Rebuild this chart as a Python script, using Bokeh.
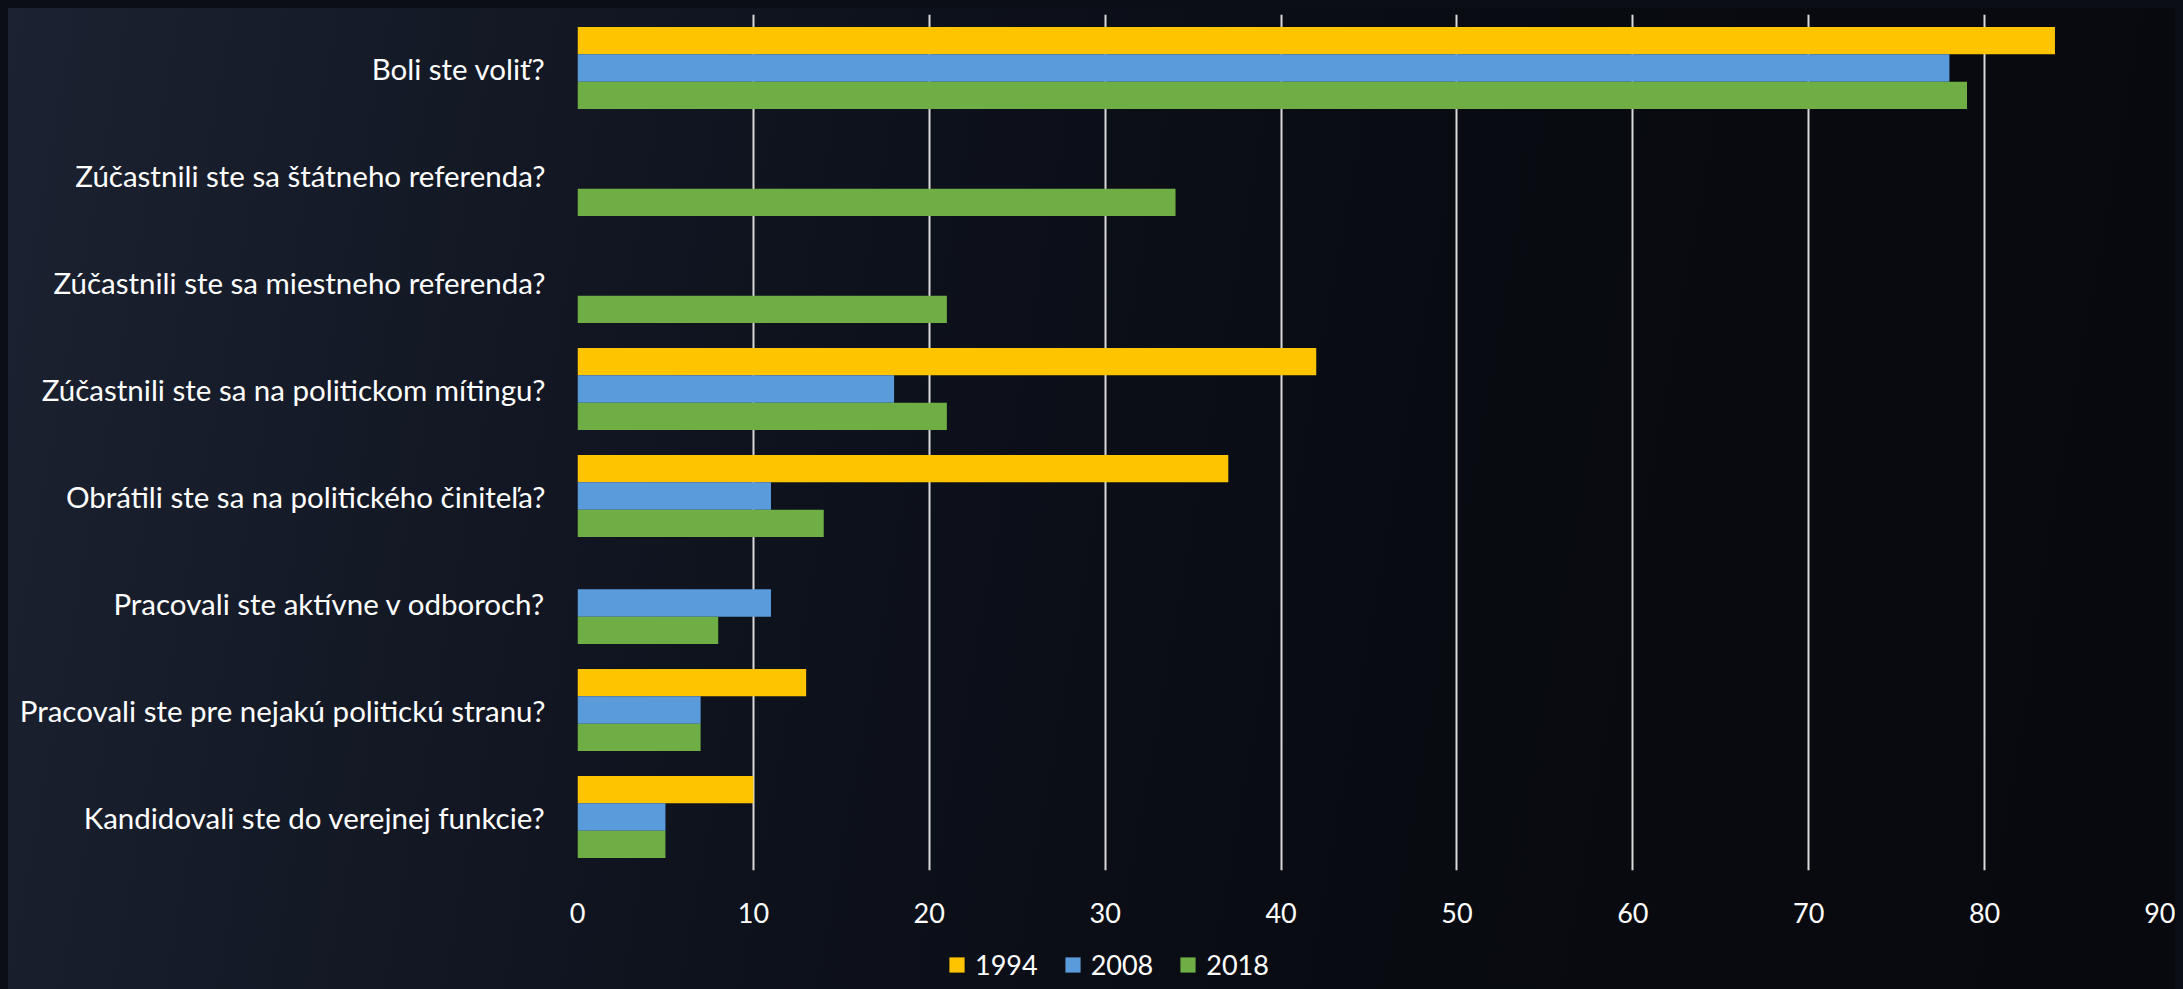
from bokeh.plotting import figure
from bokeh.layouts import column
from bokeh.models import FactorRange, Range1d, Legend, LegendItem, ColumnDataSource, FixedTicker
from bokeh.transform import dodge
from bokeh.embed import file_html
from bokeh.resources import INLINE

# ---- data ----
categories = [
    "Boli ste voliť?",
    "Zúčastnili ste sa štátneho referenda?",
    "Zúčastnili ste sa miestneho referenda?",
    "Zúčastnili ste sa na politickom mítingu?",
    "Obrátili ste sa na politického činiteľa?",
    "Pracovali ste aktívne v odboroch?",
    "Pracovali ste pre nejakú politickú stranu?",
    "Kandidovali ste do verejnej funkcie?",
]
years = ["1994", "2008", "2018"]
v1994 = [84, 0, 0, 42, 37, 0, 13, 10]
v2008 = [78, 0, 0, 18, 11, 11, 7, 5]
v2018 = [79, 34, 21, 21, 14, 8, 7, 5]
x_ticks = [0, 10, 20, 30, 40, 50, 60, 70, 80, 90]

# ---- style ----
FONT = "Lato"
BG = "#0b0e17"
colors = {"1994": "#ffc400", "2008": "#5a9bdb", "2018": "#6fae45"}
bar_h = 0.255

src = ColumnDataSource(dict(cat=categories, y1994=v1994, y2008=v2008, y2018=v2018))

p = figure(
    width=2167, height=931,
    y_range=FactorRange(*reversed(categories)),
    x_range=Range1d(0, 90),
    output_backend="svg", toolbar_location=None,
    min_border_left=569, min_border_right=15, min_border_top=6, min_border_bottom=69,
)
p.background_fill_alpha = 0
p.border_fill_alpha = 0
p.outline_line_color = None

offsets = {"1994": bar_h, "2008": 0.0, "2018": -bar_h}
for yr in years:
    p.hbar(y=dodge("cat", offsets[yr], range=p.y_range), left=0, right="y" + yr, height=bar_h,
           source=src, fill_color=colors[yr], line_color=None)

# grid
p.xgrid.ticker = FixedTicker(ticks=x_ticks)
p.xgrid.grid_line_color = "#d9d9d9"
p.xgrid.grid_line_width = 2
p.ygrid.grid_line_color = None

# x axis
p.xaxis.ticker = FixedTicker(ticks=x_ticks)
p.xaxis.axis_line_color = None
p.xaxis.major_tick_line_color = None
p.xaxis.minor_tick_line_color = None
p.xaxis.major_label_text_color = "#ffffff"
p.xaxis.major_label_text_font = FONT
p.xaxis.major_label_text_font_size = "27px"
p.xaxis.major_label_standoff = 26

# y axis
p.yaxis.axis_line_color = None
p.yaxis.major_tick_line_color = None
p.yaxis.minor_tick_line_color = None
p.yaxis.major_label_text_color = "#ffffff"
p.yaxis.major_label_text_font = FONT
p.yaxis.major_label_text_font_size = "29.5px"
p.yaxis.major_label_standoff = 26

# ---- legend strip below the chart ----
lg = figure(
    width=2167, height=42, output_backend="svg", toolbar_location=None,
    x_axis_type=None, y_axis_type=None,
    x_range=Range1d(0, 1), y_range=Range1d(0, 1),
    min_border_left=0, min_border_right=0, min_border_top=0, min_border_bottom=0,
)
lg.background_fill_alpha = 0
lg.border_fill_alpha = 0
lg.outline_line_color = None
lg.grid.grid_line_color = None
key_renderers = []
for yr in years:
    # hidden key glyphs (only their legend swatches are shown)
    key_renderers.append(lg.quad(left="y" + yr, right="y" + yr, top="y" + yr, bottom="y" + yr,
                                 source=src, fill_color=colors[yr], line_color=None, visible=False))

legend = Legend(
    items=[LegendItem(label=yr, renderers=[r]) for yr, r in zip(years, key_renderers)],
    orientation="horizontal",
    location=(370, 0),
    background_fill_alpha=0, border_line_alpha=0,
    inactive_fill_alpha=0,
    label_text_color="#ffffff", label_text_font=FONT, label_text_font_size="27px",
    glyph_width=19, glyph_height=19, label_standoff=9, spacing=25,
    label_height=19, padding=0, margin=0,
)
lg.add_layout(legend)

layout = column(p, lg, spacing=0)

html = file_html(layout, INLINE, title="Politická participácia")
css = ("<style>html,body{background-color:" + BG + ";}"
       "body{margin:8px;background-image:linear-gradient(100deg,#1c2231 0%,#141926 20%,#0d111b 40%,#090b12 65%,#07090e 100%);"
       "background-attachment:fixed;}</style>")
i = html.rfind("</head>")
html = html[:i] + css + html[i:]
open("out.html", "w").write(html)
